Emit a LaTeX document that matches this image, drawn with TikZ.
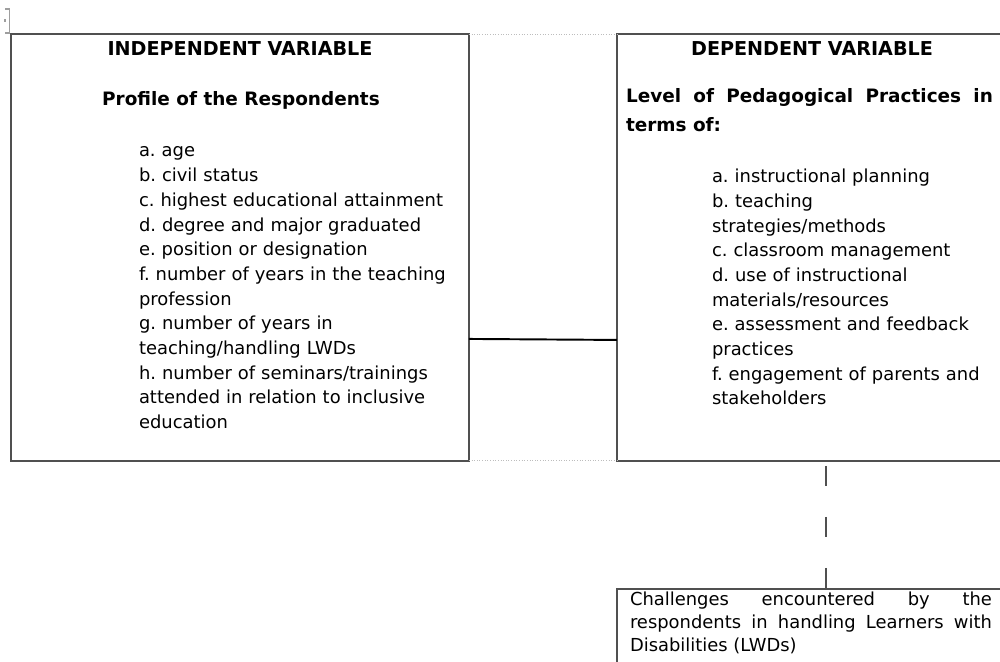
\documentclass[tikz,border=0pt]{standalone}
\usepackage{fontspec}
\setmainfont{DejaVu Sans}
\usetikzlibrary{positioning}
\definecolor{frame}{HTML}{505050}
\definecolor{gridline}{HTML}{BDBDBD}
\definecolor{marker}{HTML}{9E9E9E}
\frenchspacing

\begin{document}
\begin{tikzpicture}[x=0.02cm, y=-0.02cm, font=\fontsize{10.2}{14.05}\selectfont,
  varbox/.style={draw=frame, line width=0.75pt, inner sep=0pt, outer sep=0pt},
  txt/.style={inner sep=0pt, outer sep=0pt},
  head/.style={txt, font=\bfseries\fontsize{10.9}{13}\selectfont},
  subhead/.style={txt, font=\bfseries\fontsize{10.5}{16}\selectfont}]
  \useasboundingbox (0,0) rectangle (1000,662);
  \clip (0,0) rectangle (1000,662);

  % frame corner left by the text box
  \draw[marker, line width=0.6pt] (5,9) -| (9.5,33) -- (5,33);
  \fill[marker] (4,19) rectangle (6,22);

  % boxes
  \node[varbox, anchor=north west, minimum width=9.16cm, minimum height=8.54cm]
    (iv) at (11,34) {};
  \node[varbox, minimum width=7.76cm, minimum height=8.54cm, right=2.96cm of iv]
    (dv) {};
  \node[varbox, minimum width=7.76cm, minimum height=2.3cm, below=2.56cm of dv]
    (low) {};

  % table grid between the boxes
  \draw[gridline, densely dotted, line width=0.5pt] (iv.north east) -- (dv.north west);
  \draw[gridline, densely dotted, line width=0.5pt] (iv.south east) -- (dv.south west);

  % independent variable
  \node[head, anchor=base] (ivhead) at (240,56) {INDEPENDENT VARIABLE};
  \node[subhead, anchor=base] (ivsub) at (241,106) {Profile of the Respondents};
  \node[txt, text width=6.4cm, align=left, anchor=base west] (ivlist) at (139,157)
    {a. age\\ b. civil status\\ c. highest educational attainment\\
     d. degree and major graduated\\ e. position or designation\\
     f. number of years in the teaching\\ profession\\
     g. number of years in\\ teaching/handling LWDs\\
     h. number of seminars/trainings\\ attended in relation to inclusive\\ education};

  % dependent variable
  \node[head, anchor=base] (dvhead) at (812,56) {DEPENDENT VARIABLE};
  \node[subhead, text width=7.34cm, align=justify, anchor=base west] (dvsub) at (626,103)
    {Level of Pedagogical Practices in\linebreak terms of:};
  \node[txt, text width=5.6cm, align=left, anchor=base west] (dvlist) at (712,182.7)
    {a. instructional planning\\ b. teaching\\ strategies/methods\\
     c. classroom management\\ d. use of instructional\\ materials/resources\\
     e. assessment and feedback\\ practices\\ f. engagement of parents and\\ stakeholders};

  % challenges
  \node[txt, text width=7.24cm, align=justify, anchor=base west,
    font=\fontsize{10.2}{13.3}\selectfont] (lowtext) at (630,605)
    {Challenges encountered by the\linebreak respondents in handling Learners with\linebreak Disabilities (LWDs)};

  % connectors
  \draw[black, line width=1.1pt] ([yshift=-1.83cm]iv.east) -- ([yshift=-1.85cm]dv.west);
  \draw[frame, line width=0.8pt, dash pattern=on 0.4cm off 0.62cm, dash phase=0.92cm]
    ([xshift=0.3cm]dv.south) -- ([xshift=0.3cm]low.north);
\end{tikzpicture}
\end{document}
